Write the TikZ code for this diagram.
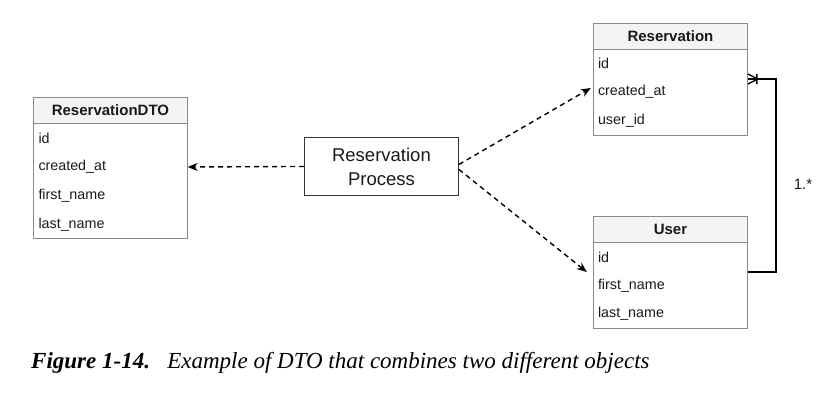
\documentclass[tikz,border=0pt]{standalone}
\usepackage{fontspec}
\setmainfont{Liberation Serif}
\setsansfont{Liberation Sans}
\usetikzlibrary{arrows.meta,calc}
\definecolor{boxline}{HTML}{8A8A8A}
\definecolor{headfill}{HTML}{F4F4F4}
\definecolor{txt}{HTML}{1A1A1A}
\tikzset{
  tabhead/.style={draw=boxline, line width=0.9pt, fill=headfill, minimum width=154pt, minimum height=26pt, inner sep=0pt,
     font=\sffamily\bfseries\fontsize{15}{17}\selectfont, text=txt},
  tabbody/.style={draw=boxline, line width=0.9pt, fill=white, minimum width=154pt, inner sep=0pt},
  tabrow/.style={minimum width=154pt, minimum height=29pt, inner sep=0pt, text width=144pt, align=left,
     font=\sffamily\fontsize{14.3}{16}\selectfont, text=txt},
  procbox/.style={draw=black!80, line width=0.9pt, minimum width=154pt, minimum height=58pt, inner sep=0pt, align=center,
     font=\sffamily\fontsize{18.5}{24}\selectfont, text=txt},
  dasharrow/.style={line width=1.4pt, dash pattern=on 5pt off 4pt, -{Stealth[length=10pt,width=8pt]}},
  relline/.style={line width=1.8pt}
}
\begin{document}
\begin{tikzpicture}[x=1pt,y=-1pt]
\useasboundingbox (0,0) rectangle (829,404);
% ReservationDTO
\node[tabbody, minimum height=115pt, anchor=north west] (dtobody) at (33,123) {};
\node[tabhead, anchor=north west] (dtohead) at (33,97) {ReservationDTO};
\node[tabrow] (d1) at (110.5,138) {id};
\node[tabrow] (d2) at (110.5,167) {created\_at};
\node[tabrow] (d3) at (110.5,196) {first\_name};
\node[tabrow] (d4) at (110.5,225) {last\_name};
% Reservation
\node[tabbody, minimum height=86pt, anchor=north west] (rbody) at (593,49) {};
\node[tabhead, anchor=north west] (rhead) at (593,23) {Reservation};
\node[tabrow] (r1) at (670,63) {id};
\node[tabrow] (r2) at (670,92) {created\_at};
\node[tabrow] (r3) at (670,121) {user\_id};
% User
\node[tabbody, minimum height=86pt, anchor=north west] (ubody) at (593,242) {};
\node[tabhead, anchor=north west] (uhead) at (593,216) {User};
\node[tabrow] (u1) at (670,257) {id};
\node[tabrow] (u2) at (670,286) {first\_name};
\node[tabrow] (u3) at (670,314) {last\_name};
% Process
\node[procbox, anchor=north west] (proc) at (304,137) {Reservation\\Process};
% dashed arrows
\draw[dasharrow] (proc.west) -- (d2.east);
\draw[dasharrow] ([yshift=2pt]proc.east) -- ([xshift=-2pt,yshift=4pt]r2.west);
\draw[dasharrow] ([yshift=-3pt]proc.east) -- ([xshift=-6pt,yshift=14pt]u2.west);
% relation with crow's foot
\coordinate (rend) at ($(rbody.east |- 0,79)$);
\coordinate (uend) at ($(ubody.east |- 0,272)$);
\draw[relline] (uend) -| (776,79) -- (rend);
\draw[line width=1.4pt] ([xshift=10pt]rend) -- ([yshift=5pt]rend)
  ([xshift=10pt]rend) -- ([yshift=-5pt]rend)
  ([xshift=9pt,yshift=5pt]rend) -- ([xshift=9pt,yshift=-5pt]rend);
\node[font=\sffamily\fontsize{15}{17}\selectfont, text=txt] (mult) at (803,184) {1.*};
% caption
\node[anchor=base west, inner sep=0pt, font=\fontsize{23}{26}\selectfont, text=black] (cap) at (31,368)
  {\textbf{\textit{Figure 1-14.}}\hspace{0.75em}\textit{Example of DTO that combines two different objects}};
\end{tikzpicture}
\end{document}
